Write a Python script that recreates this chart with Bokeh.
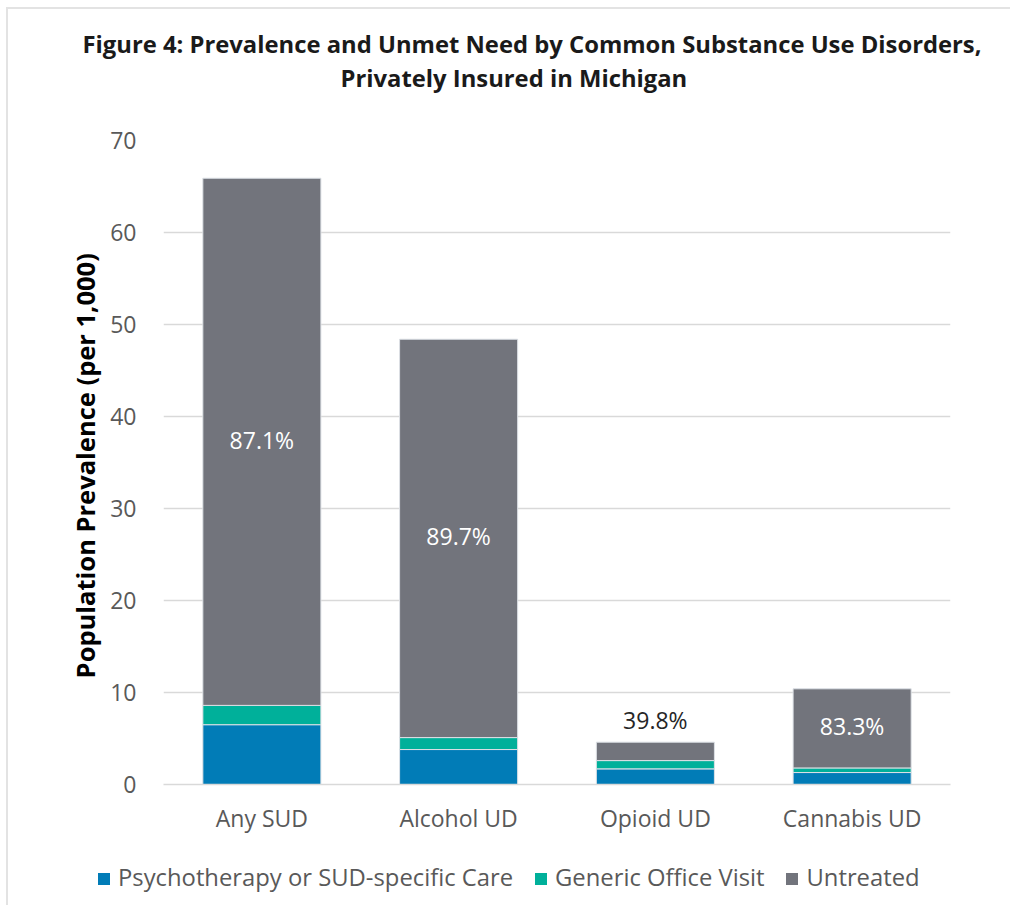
from bokeh.plotting import figure
from bokeh.layouts import column
from bokeh.models import ColumnDataSource, LabelSet, Title, FixedTicker, Div
from bokeh.core.properties import value
from bokeh.embed import file_html
from bokeh.resources import INLINE

categories = ["Any SUD", "Alcohol UD", "Opioid UD", "Cannabis UD"]
psychotherapy = [6.5, 3.8, 1.7, 1.3]
generic_visit = [2.1, 1.3, 0.9, 0.5]
untreated = [57.3, 43.3, 2.0, 8.6]
pct_labels = ["87.1%", "89.7%", "39.8%", "83.3%"]
series_names = ["Psychotherapy or SUD-specific Care", "Generic Office Visit", "Untreated"]
y_ticks = [0, 10, 20, 30, 40, 50, 60, 70]
title_lines = ["Figure 4: Prevalence and Unmet Need by Common Substance Use Disorders,",
               "Privately Insured in Michigan"]

colors = ["#017cb7", "#00b09a", "#72747c"]
FONT = "Open Sans"
W = 994

totals = [a + b + c for a, b, c in zip(psychotherapy, generic_visit, untreated)]
lab_y, lab_off, lab_col = [], [], []
for i, t in enumerate(totals):
    if untreated[i] < 3:
        lab_y.append(t); lab_off.append(6); lab_col.append("#262626")
    else:
        lab_y.append(psychotherapy[i] + generic_visit[i] + untreated[i] / 2)
        lab_off.append(-14); lab_col.append("#ffffff")

src = ColumnDataSource(dict(cat=categories, p=psychotherapy, g=generic_visit, u=untreated,
                            ly=lab_y, loff=lab_off, lcol=lab_col, lab=pct_labels))

p = figure(x_range=categories, y_range=(0, 70), frame_width=787, frame_height=644,
           output_backend="svg", toolbar_location=None,
           min_border_left=155, min_border_right=52, min_border_top=131, min_border_bottom=62)

rs = p.vbar_stack(["p", "g", "u"], x="cat", width=0.6, source=src, color=colors,
                  line_color="#dde1e6", line_width=1)

p.add_layout(LabelSet(x="cat", y="ly", text="lab", source=src, text_align="center",
                      text_baseline="bottom", y_offset="loff", text_color="lcol",
                      text_font=value(FONT), text_font_size="23px"))

p.xgrid.grid_line_color = None
p.ygrid.grid_line_color = "#d9d9d9"
p.ygrid.grid_line_width = 1.5
p.outline_line_color = None

p.yaxis.ticker = FixedTicker(ticks=y_ticks)
p.yaxis.axis_line_color = None
p.yaxis.major_tick_line_color = None
p.yaxis.minor_tick_line_color = None
p.yaxis.major_label_text_font = FONT
p.yaxis.major_label_text_font_size = "23px"
p.yaxis.major_label_text_color = "#595959"
p.yaxis.major_label_standoff = 21
p.yaxis.axis_label = "Population  Prevalence (per 1,000)"
p.yaxis.axis_label_text_font = FONT
p.yaxis.axis_label_text_font_style = "bold"
p.yaxis.axis_label_text_font_size = "25.5px"
p.yaxis.axis_label_text_color = "#000000"
p.yaxis.axis_label_standoff = 5

p.xaxis.axis_line_color = "#d9d9d9"
p.xaxis.axis_line_width = 1.5
p.xaxis.major_tick_line_color = None
p.xaxis.minor_tick_line_color = None
p.xaxis.major_label_text_font = FONT
p.xaxis.major_label_text_font_size = "23px"
p.xaxis.major_label_text_color = "#595959"
p.xaxis.major_label_standoff = 11

# titles: invisible spacer (nearest to frame), line 2, line 1
tstyle = dict(text_font=FONT, text_font_size="23.8px", text_font_style="bold", align="left")
p.add_layout(Title(text=" ", standoff=13, text_color="#ffffff", **tstyle), "above")
p.add_layout(Title(text=title_lines[1], standoff=0, offset=177, text_color="#1a1a1a", **tstyle), "above")
p.add_layout(Title(text=title_lines[0], standoff=0, offset=-81, text_color="#1a1a1a", **tstyle), "above")

# legend strip
sq = ('<span style="display:inline-block;width:12px;height:12px;background:{c};'
      'margin-right:8px;vertical-align:middle;position:relative;top:-1px"></span>')
items = []
for i, name in enumerate(series_names):
    gap = "22px" if i < len(series_names) - 1 else "0px"
    items.append(sq.format(c=colors[i]) +
                 f'<span style="margin-right:{gap}">{name}</span>')
legend_html = ('<div style="font-family:\'Open Sans\';font-size:23.8px;color:#595959;'
               'white-space:nowrap;padding-left:85px;padding-top:11px;line-height:30px">'
               + "".join(items) + '</div>')
leg = Div(text=legend_html, width=W, height=50)

layout = column(p, leg, spacing=0,
                styles={"border-top": "2px solid #e3e3e3", "border-left": "2px solid #e3e3e3",
                        "margin-left": "6px", "margin-top": "7px"})

open("out.html", "w").write(file_html(layout, INLINE))
